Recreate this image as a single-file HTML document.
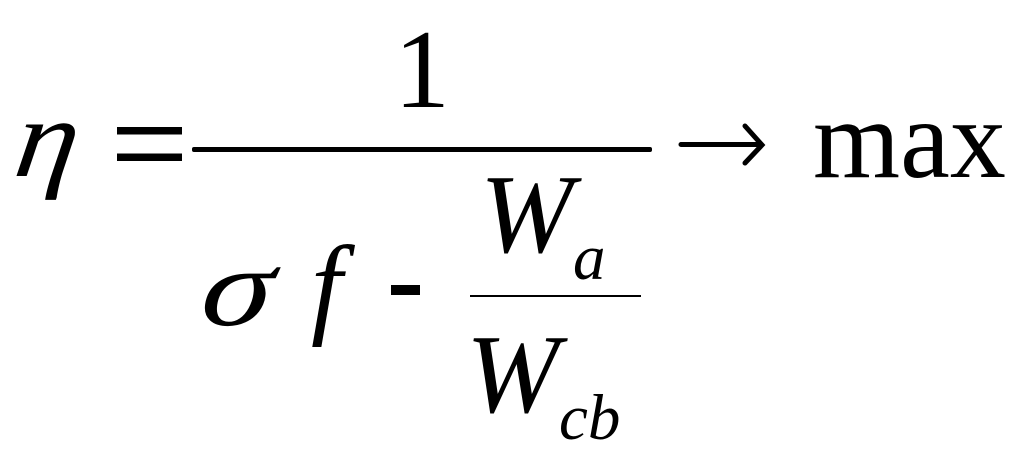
<!DOCTYPE html>
<html>
<head>
<meta charset="utf-8">
<style>
html,body{margin:0;padding:0;background:#fff;width:1024px;height:466px;overflow:hidden}
svg{display:block}
text{font-family:"Liberation Serif","DejaVu Serif",serif;fill:#000}
.i{font-style:italic}
</style>
</head>
<body>
<svg width="1024" height="466" viewBox="0 0 1024 466" xmlns="http://www.w3.org/2000/svg">
<text class="i" transform="translate(12 176) skewX(-8) scale(1.12 1)" font-size="112">η</text>
<rect x="117" y="127" width="65" height="7.5" fill="#000"/>
<rect x="117" y="153.5" width="65" height="7.5" fill="#000"/>
<rect x="192" y="147" width="460" height="5" rx="2" fill="#000"/>
<text x="394" y="107" font-size="112">1</text>
<path d="M681 144.5H759M745 126L762 145L745 163" fill="none" stroke="#000" stroke-width="5" stroke-linecap="round"/>
<text x="813" y="177" font-size="112">max</text>
<text class="i" transform="translate(198 325) skewX(-8) scale(1.27 1)" font-size="112">σ</text>
<text class="i" x="311" y="323" font-size="112">f</text>
<rect x="391" y="285" width="29" height="10" fill="#000"/>
<text class="i" x="480" y="252" font-size="112">W</text>
<text class="i" x="573" y="279" font-size="65">a</text>
<rect x="470" y="295" width="171" height="2" fill="#000"/>
<text class="i" x="466" y="412" font-size="112">W</text>
<text class="i" x="559" y="439" font-size="65">cb</text>
</svg>
</body>
</html>
